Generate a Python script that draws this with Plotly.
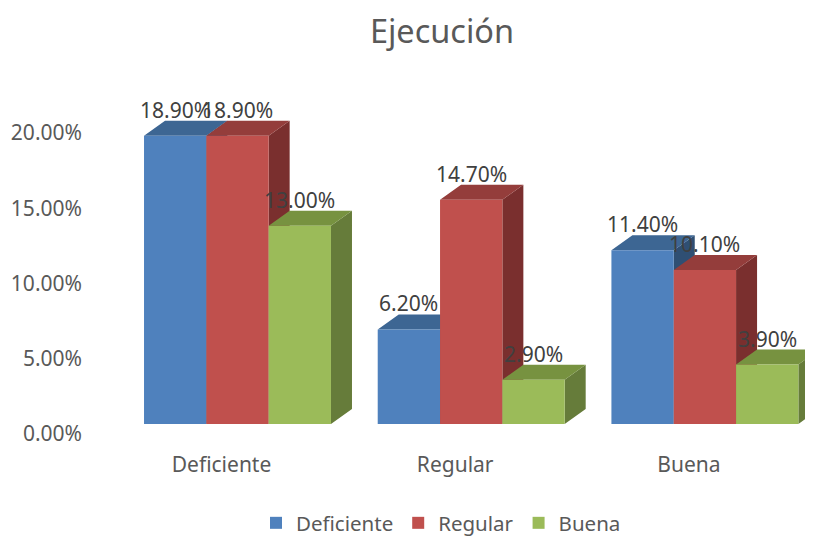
import plotly.graph_objects as go

categories = ["Deficiente", "Regular", "Buena"]
series_names = ["Deficiente", "Regular", "Buena"]
deficiente = [18.9, 6.2, 11.4]
regular = [18.9, 14.7, 10.1]
buena = [13.0, 2.9, 3.9]
tick_labels = ["0.00%", "5.00%", "10.00%", "15.00%", "20.00%"]
tick_values = [0, 5, 10, 15, 20]
front_colors = ["#4F81BD", "#C0504D", "#9BBB59"]
top_colors = ["#3D6693", "#943D3B", "#779240"]
side_colors = ["#2F4F73", "#7A2F2E", "#667C3A"]

series = [deficiente, regular, buena]
PAGE = 8                            # the page's own margin
W, H = 813 - PAGE, 536 - PAGE
L, R, T, B = 88 - PAGE, 813 - PAGE, 60 - PAGE, 446 - PAGE
X0, XS = 237.5 - PAGE, 233.7
Y0, YS = 424.0 - PAGE, 15.25
TICK_Y0, TICK_YS = 434.0 - PAGE, 15.05
xr = [(L - X0) / XS, (R - X0) / XS]
yr = [(Y0 - B) / YS, (Y0 - T) / YS]
BAR_W = 0.8 / 3
DX, DY = 21 / XS, 15 / YS
ytick = [(Y0 - (TICK_Y0 - TICK_YS * v)) / YS for v in tick_values]
xtick = [i - 16 / XS for i in range(len(categories))]

fig = go.Figure()

for s, vals in enumerate(series):
    tx, ty, sx, sy = [], [], [], []
    for c, v in enumerate(vals):
        x0 = c - 0.4 + s * BAR_W
        x1 = x0 + BAR_W
        sx += [x1, x1 + DX, x1 + DX, x1, x1, None]
        sy += [0, DY, v + DY, v, 0, None]
        tx += [x0, x1, x1 + DX, x0 + DX, x0, None]
        ty += [v, v, v + DY, v + DY, v, None]
    for xs, ys, col in ((sx, sy, side_colors[s]), (tx, ty, top_colors[s])):
        fig.add_trace(go.Scatter(x=xs, y=ys, mode="lines", fill="toself", fillcolor=col,
                                 line=dict(width=0, color=col), showlegend=False,
                                 hoverinfo="skip", xaxis="x", yaxis="y"))

for s, vals in enumerate(series):
    fig.add_trace(go.Bar(x=list(range(len(categories))), y=vals, name=series_names[s],
                         marker=dict(color=front_colors[s], line=dict(width=0)),
                         xaxis="x2", yaxis="y2"))

for s, vals in enumerate(series):
    for c, v in enumerate(vals):
        fig.add_annotation(x=c - 0.4 + (s + 0.5) * BAR_W, y=v, xref="x2", yref="y2",
                           text=f"{v:.2f}%", showarrow=False, xshift=0, yshift=26,
                           font=dict(size=21, color="#404040", family="Noto Sans"))

fig.update_layout(
    width=W, height=H, autosize=False,
    margin=dict(l=L, r=W - R, t=T, b=H - B),
    paper_bgcolor="white", plot_bgcolor="rgba(0,0,0,0)",
    barmode="group", bargap=0.2, bargroupgap=0,
    font=dict(family="Noto Sans", color="#595959", size=21),
    title=dict(text="Ejecución", x=(442 - PAGE) / W, xanchor="center",
               y=1 - (32 - PAGE) / H, yanchor="middle",
               font=dict(size=32.5, color="#595959", family="Noto Sans")),
    xaxis=dict(range=xr, tickmode="array", tickvals=xtick, ticktext=categories,
               showgrid=False, zeroline=False, showline=False, ticks="",
               ticklabelstandoff=4, tickfont=dict(size=21, color="#595959")),
    yaxis=dict(range=yr, tickmode="array", tickvals=ytick, ticktext=tick_labels,
               showgrid=False, zeroline=False, showline=False, ticks="",
               ticklabelstandoff=5, tickfont=dict(size=21, color="#595959")),
    xaxis2=dict(range=xr, overlaying="x", visible=False),
    yaxis2=dict(range=yr, overlaying="y", visible=False),
    legend=dict(orientation="h", x=(441 - PAGE) / W, xanchor="center", xref="container",
                y=1 - (523 - PAGE) / H, yanchor="middle", yref="container",
                font=dict(size=20.5, color="#595959"), traceorder="normal"),
)
fig.write_html("out.html")
